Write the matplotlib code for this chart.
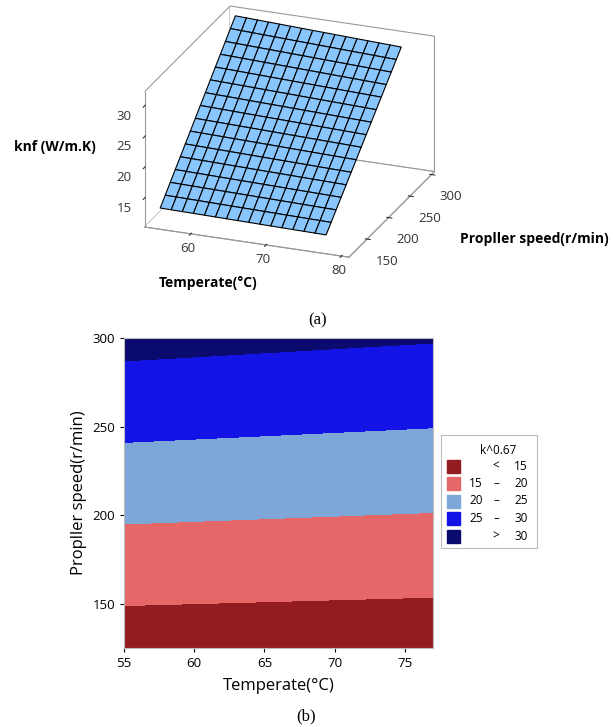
import numpy as np
import matplotlib
matplotlib.use('Agg')
import matplotlib.pyplot as plt
from matplotlib.patches import Rectangle

plt.rcParams['font.family'] = ['Open Sans', 'DejaVu Sans']

# knf at the corners of the design region
temp_range = [55, 77]
speed_range = [125, 300]
knf_corner = np.array([[12.4, 12.0],    # speed 125 : T=55, T=77
                       [31.4, 30.3]])   # speed 300 : T=55, T=77

levels = [0, 15, 20, 25, 30, 100]
level_colors = ['#921c20', '#e56767', '#7da7d9', '#1313e6', '#0b0a6e']
legend_rows = [('', '<', '15'), ('15', '–', '20'), ('20', '–', '25'),
               ('25', '–', '30'), ('', '>', '30')]
n_mesh = 16

fig = plt.figure(figsize=(6.13, 7.27), dpi=100)

# ---- (a) surface plot
T = np.linspace(temp_range[0], temp_range[1], n_mesh)
N = np.linspace(speed_range[0], speed_range[1], n_mesh)
TT, NN = np.meshgrid(T, N)
u = (TT - temp_range[0]) / (temp_range[1] - temp_range[0])
v = (NN - speed_range[0]) / (speed_range[1] - speed_range[0])
K = (knf_corner[0, 0]*(1-u)*(1-v) + knf_corner[0, 1]*u*(1-v)
     + knf_corner[1, 0]*(1-u)*v + knf_corner[1, 1]*u*v)

ax1 = fig.add_axes([0.1056, 0.6033, 0.72, 0.42], projection='3d')
ax1.set_proj_type('ortho')
ax1.view_init(elev=22.6, azim=-69)
ax1.set_box_aspect((1, 1.09, 0.67), zoom=1.13)
ax1.plot_surface(TT, NN, K, rstride=1, cstride=1, color='#88c6fd',
                 edgecolor='black', linewidth=0.8, shade=False)
ax1.set_xlim(53.9, 81)
ax1.set_ylim(108, 307)
ax1.set_zlim(10.3, 32.3)
ax1.set_xticks([60, 70, 80])
ax1.set_yticks([150, 200, 250, 300])
ax1.set_zticks([15, 20, 25, 30])
ax1.grid(False)
for axis in (ax1.xaxis, ax1.yaxis, ax1.zaxis):
    axis.set_pane_color('white')
    axis.pane.set_edgecolor('#999999')
    axis.pane.set_linewidth(0.8)
    axis.line.set_color('#999999')
    axis.line.set_linewidth(0.8)
ax1.zaxis.set_ticks_position('lower')
ax1.tick_params(labelsize=9.5, colors='#333333')
ax1.xaxis.set_tick_params(pad=-4)
ax1.yaxis.set_tick_params(pad=3)
ax1.zaxis.set_tick_params(pad=0)
fig.text(55/613, 1-147/727, 'knf (W/m.K)', ha='center', va='center',
         fontsize=10, fontweight='bold')
fig.text(208/613, 1-283/727, 'Temperate(°C)', ha='center', va='center',
         fontsize=10, fontweight='bold')
fig.text(460/613, 1-239/727, 'Propller speed(r/min)', ha='left', va='center',
         fontsize=10, fontweight='bold')
fig.text(318/613, 1-320/727, '(a)', ha='center', va='center',
         fontsize=12, family='Liberation Serif')

# ---- (b) contour plot
ax2 = fig.add_axes([124/613, 1-648/727, 309/613, 310/727])
ax2.contourf(temp_range, speed_range, knf_corner, levels=levels,
             colors=level_colors)
ax2.set_xlim(55, 77)
ax2.set_ylim(125, 300)
ax2.set_xticks([55, 60, 65, 70, 75])
ax2.set_yticks([150, 200, 250, 300])
for s in ax2.spines.values():
    s.set_color('#bbbbbb')
ax2.tick_params(labelsize=9.5, colors='black', length=3)
ax2.set_xlabel('Temperate(°C)', fontsize=12, labelpad=6)
ax2.set_ylabel('Propller speed(r/min)', fontsize=12)
fig.text(306/613, 1-716/727, '(b)', ha='center', va='center',
         fontsize=12, family='Liberation Serif')

# legend box
lg = fig.add_axes([441/613, 1-548/727, 96/613, 113/727])
lg.set_xlim(0, 96)
lg.set_ylim(113, 0)
lg.set_xticks([])
lg.set_yticks([])
for s in lg.spines.values():
    s.set_color('#bbbbbb')
lg.text(57, 16, 'k^0.67', ha='center', va='center', fontsize=8.5)
for i, (lo, sep, hi) in enumerate(legend_rows):
    y = 31 + i * 17.5
    lg.add_patch(Rectangle((6, y - 6.5), 13, 13, color=level_colors[i]))
    lg.text(42, y, lo, ha='right', va='center', fontsize=8.5)
    lg.text(55, y, sep, ha='center', va='center', fontsize=8.5)
    lg.text(87, y, hi, ha='right', va='center', fontsize=8.5)

fig.savefig('out.png', dpi=100)
